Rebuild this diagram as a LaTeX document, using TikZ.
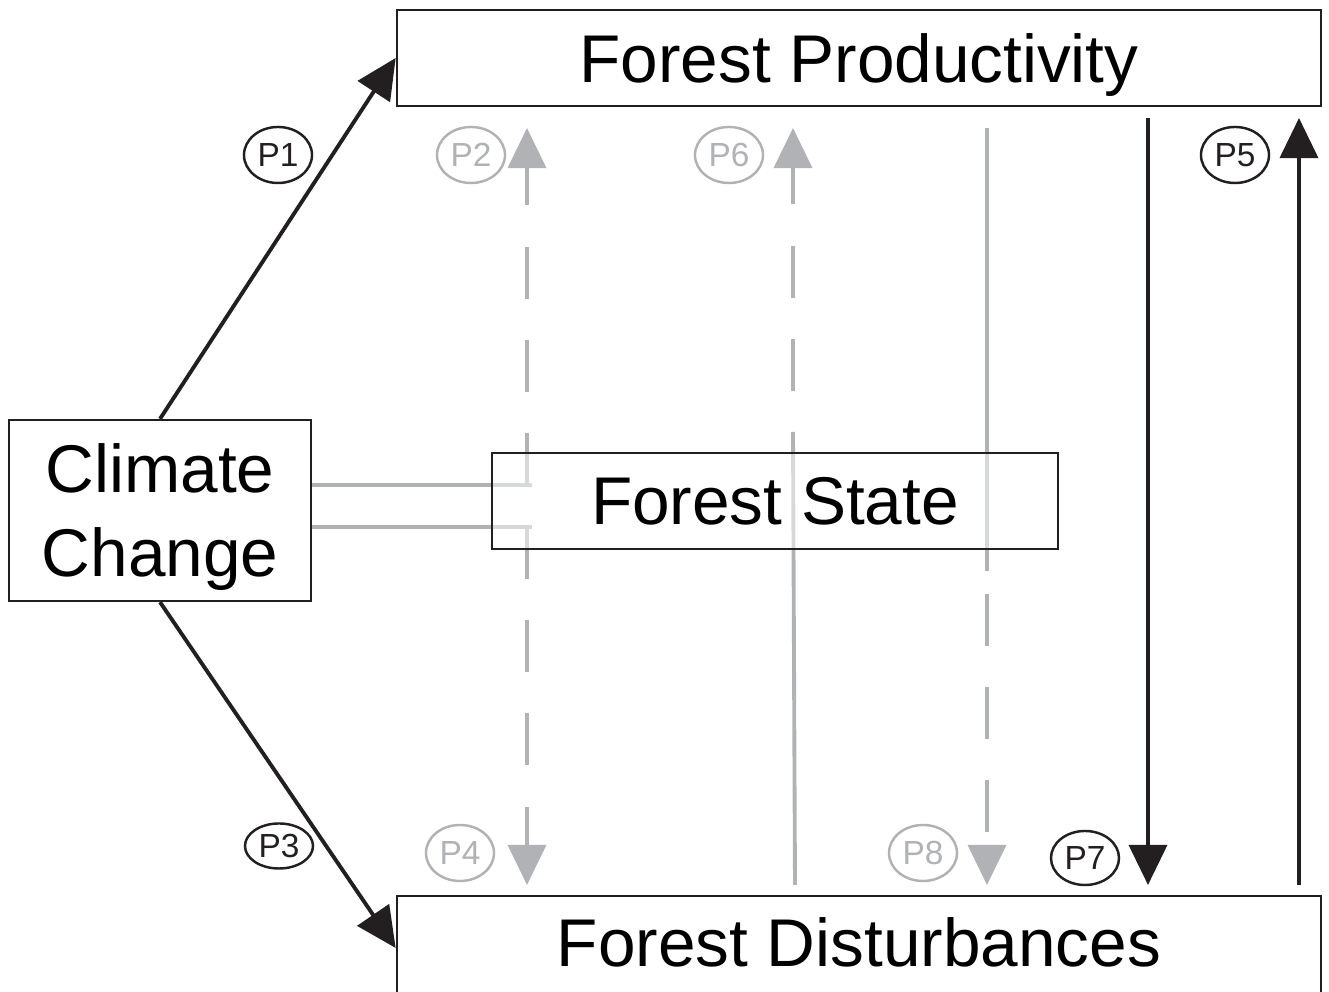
\documentclass[tikz,border=0pt]{standalone}
\usepackage{fontspec}
\setmainfont{Liberation Sans}
\usetikzlibrary{shapes,arrows.meta,backgrounds}
\definecolor{linegray}{RGB}{176,178,182}
\definecolor{boxblack}{RGB}{35,31,32}
\tikzset{
  bigbox/.style={rectangle,draw=boxblack,line width=.6pt,inner sep=0pt,text depth=0pt,font=\fontsize{19.2}{23.9}\selectfont},
  plab/.style={ellipse,draw=boxblack,text=boxblack,line width=.7pt,inner sep=0pt,minimum width=.68cm,minimum height=.56cm,font=\fontsize{9.5}{11}\selectfont},
  plabg/.style={plab,draw=linegray,text=linegray},
  blackpath/.style={draw=boxblack,line width=1.1pt},
  graypath/.style={draw=linegray,line width=1.1pt},
  tipP/.style={-{Triangle[length=11.4pt,width=10.8pt]}},
  dashP/.style={dash pattern=on 14.8pt off 11.7pt}
}
\begin{document}
\begin{tikzpicture}[x=0.01cm,y=-0.01cm]
\useasboundingbox (0,0) rectangle (1329,992);
% boxes
\node at (859,58) [bigbox,minimum width=9.24cm,minimum height=.96cm] (boxP) {Forest Productivity};
\node at (859,948) [bigbox,minimum width=9.24cm,minimum height=1.04cm,text depth=3.4pt] (boxD) {Forest Disturbances};
\node at (160,510.5) [bigbox,fill=white,align=center,minimum width=3.02cm,minimum height=1.81cm] (boxC) {Climate\\Change};
\node at (775,501) [bigbox,fill=white,fill opacity=.5,text opacity=1,minimum width=5.66cm,minimum height=.96cm] (boxS) {Forest State};
% path labels
\node at (278,155) [plab] (lab1) {P1};
\node at (471,155) [plabg] (lab2) {P2};
\node at (279,846) [plab,minimum height=.45cm] (lab3) {P3};
\node at (460,853) [plabg] (lab4) {P4};
\node at (1235,155) [plab] (lab5) {P5};
\node at (729,155) [plabg] (lab6) {P6};
\node at (1085,858) [plab,minimum height=.54cm] (lab7) {P7};
\node at (923,853) [plabg] (lab8) {P8};
% path ends
\coordinate (j2) at (527,485);
\coordinate (j2e) at (532,485);
\coordinate (t2) at (527,128);
\coordinate (j4) at (527,527);
\coordinate (j4e) at (532,527);
\coordinate (t4) at (527,885);
\coordinate (b6) at (795,885);
\coordinate (m6) at (793,432);
\coordinate (t6) at (793,128);
\coordinate (t8) at (987,128);
\coordinate (m8) at (987,571);
\coordinate (n8) at (987,594);
\coordinate (b8) at (987,885);
\coordinate (t7) at (1148,118);
\coordinate (b7) at (1148,885);
\coordinate (b5) at (1299,885);
\coordinate (t5) at (1299,118);
\begin{pgfonlayer}{background}
\draw[blackpath,tipP] (boxC.north) -- (boxP.west);
\draw[blackpath,tipP] (boxC.south) -- (boxD.west);
\draw[graypath] (boxC.east |- j2) -- (j2e);
\draw[graypath] (boxC.east |- j4) -- (j4e);
\draw[graypath,dashP,tipP] (j2) -- (t2);
\draw[graypath,dashP,tipP] (j4) -- (t4);
\draw[graypath] (b6) -- (m6);
\draw[graypath,dashP,dash phase=14.8pt,tipP] (m6) -- (t6);
\draw[graypath] (t8) -- (m8);
\draw[graypath,dashP,tipP] (n8) -- (b8);
\draw[blackpath,tipP] (t7) -- (b7);
\draw[blackpath,tipP] (b5) -- (t5);
\end{pgfonlayer}
\end{tikzpicture}
\end{document}
